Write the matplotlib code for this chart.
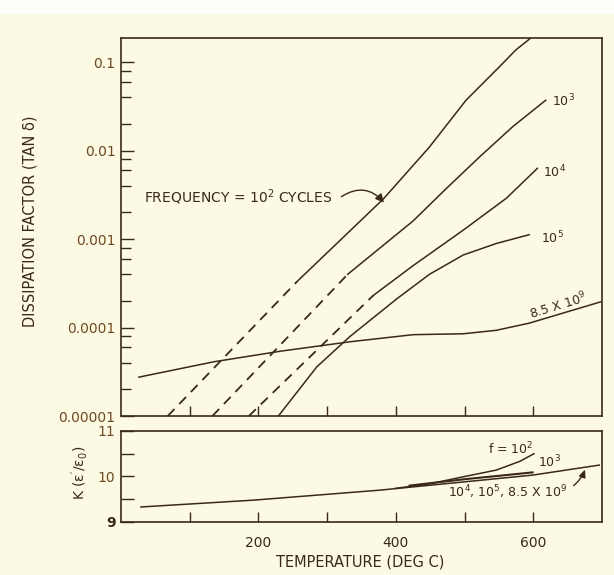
import numpy as np
import matplotlib
matplotlib.use("Agg")
import matplotlib.pyplot as plt
from matplotlib.ticker import FixedLocator, FixedFormatter, NullFormatter
from matplotlib.patches import Rectangle

plt.rcParams['font.family'] = ['DejaVu Sans']
plt.rcParams['mathtext.default'] = 'regular'
plt.rcParams['lines.scale_dashes'] = False

# ---------------- data ----------------
# Dissipation factor (tan delta) vs temperature, by frequency
# dashed = extrapolated, solid = measured
t_f1e2_dash = [68, 256]
d_f1e2_dash = [1.0e-5, 3.3e-4]
t_f1e2 = [256, 382, 449, 502, 551, 575, 596]
d_f1e2 = [3.3e-4, 2.85e-3, 1.1e-2, 3.7e-2, 8.9e-2, 0.138, 0.186]

t_f1e3_dash = [133, 330]
d_f1e3_dash = [1.0e-5, 4.0e-4]
t_f1e3 = [330, 425, 473, 522, 570, 618]
d_f1e3 = [4.0e-4, 1.6e-3, 3.7e-3, 8.5e-3, 1.86e-2, 3.7e-2]

t_f1e4_dash = [186, 367]
d_f1e4_dash = [1.0e-5, 2.3e-4]
t_f1e4 = [367, 425, 498, 561, 606]
d_f1e4 = [2.3e-4, 5.0e-4, 1.26e-3, 2.9e-3, 6.3e-3]

t_f1e5 = [229, 285, 333, 401, 449, 498, 546, 594]
d_f1e5 = [1.0e-5, 3.6e-5, 7.9e-5, 2.1e-4, 4.0e-4, 6.6e-4, 8.9e-4, 1.12e-3]

t_f85e9 = [26, 135, 232, 333, 425, 498, 546, 594, 698]
d_f85e9 = [2.75e-5, 4.1e-5, 5.4e-5, 6.9e-5, 8.3e-5, 8.5e-5, 9.3e-5, 1.12e-4, 1.95e-4]

# Dielectric constant K vs temperature
t_k_main = [29, 193, 377, 512, 599, 696]
k_main = [9.33, 9.48, 9.70, 9.90, 10.03, 10.25]
t_k_f1e2 = [400, 450, 497, 546, 580, 601]
k_f1e2 = [9.74, 9.84, 9.99, 10.14, 10.33, 10.50]
t_k_f1e3 = [420, 500, 560, 599]
k_k_f1e3 = [9.80, 9.94, 10.03, 10.09]

tan_ticks = [1e-5, 1e-4, 1e-3, 1e-2, 1e-1]
tan_labels = ["0.00001", "0.0001", "0.001", "0.01", "0.1"]
k_ticks = [9, 10, 11]
k_labels = ["9", "10", "11"]
temp_ticks = [100, 200, 300, 400, 500, 600]
temp_labels = ["", "200", "", "400", "", "600"]

# ---------------- style ----------------
paper = "#fcfae3"
ink = "#3a281c"
tick_ink = "#6e4a24"

fig = plt.figure(figsize=(6.14, 5.75), dpi=100, facecolor=paper)
fig.patches.append(Rectangle((0, 0.975), 1, 0.03, transform=fig.transFigure,
                             facecolor="#fefef8", edgecolor="none", zorder=0))

ax1 = fig.add_axes([0.1971, 0.2765, 0.7834, 0.6574])
ax2 = fig.add_axes([0.1971, 0.0922, 0.7834, 0.1583])

for ax in (ax1, ax2):
    ax.set_facecolor("none")
    for s in ax.spines.values():
        s.set_color(ink)
        s.set_linewidth(1.2)

lw = 1.1
dash = (0, (7, 5))

# ---- upper panel ----
ax1.set_yscale("log")
ax1.set_xlim(0, 700)
ax1.set_ylim(1e-5, 0.187)

for td, dd, t, d in [(t_f1e2_dash, d_f1e2_dash, t_f1e2, d_f1e2),
                     (t_f1e3_dash, d_f1e3_dash, t_f1e3, d_f1e3),
                     (t_f1e4_dash, d_f1e4_dash, t_f1e4, d_f1e4)]:
    ax1.plot(td, dd, color=ink, lw=1.3, linestyle=dash, clip_on=False)
    ax1.plot(t, d, color=ink, lw=lw)
ax1.plot(t_f1e5, d_f1e5, color=ink, lw=lw)
ax1.plot(t_f85e9, d_f85e9, color=ink, lw=lw)

ax1.yaxis.set_major_locator(FixedLocator(tan_ticks))
ax1.yaxis.set_major_formatter(FixedFormatter(tan_labels))
minor = [m * 10.0 ** e for e in range(-5, 0) for m in (2, 4, 6, 8)]
ax1.yaxis.set_minor_locator(FixedLocator(minor))
ax1.yaxis.set_minor_formatter(NullFormatter())
ax1.xaxis.set_major_locator(FixedLocator(temp_ticks))
ax1.set_xticklabels([])
ax1.tick_params(axis="y", which="major", direction="in", length=9, width=1.0,
                colors=ink, labelcolor=tick_ink, labelsize=10, pad=4)
ax1.tick_params(axis="y", which="minor", direction="in", length=7, width=1.0,
                colors=ink)
ax1.tick_params(axis="x", which="both", direction="in", length=7, width=1.0,
                colors=ink)

txt = dict(color=ink, fontsize=9)
ax1.text(627, 10 ** -1.44, "10$^3$", ha="left", va="center", **txt)
ax1.text(614, 10 ** -2.24, "10$^4$", ha="left", va="center", **txt)
ax1.text(611, 10 ** -2.99, "10$^5$", ha="left", va="center", **txt)
ax1.text(636, 10 ** -3.75, "8.5 X 10$^9$", ha="center", va="center",
         rotation=17, **txt)
ax1.text(33, 10 ** -2.53, "FREQUENCY = 10$^2$ CYCLES", ha="left", va="center",
         color=ink, fontsize=10)
ax1.annotate("", xy=(384, 10 ** -2.60), xytext=(319, 10 ** -2.53),
             arrowprops=dict(arrowstyle="-|>,head_length=0.5,head_width=0.25",
                             color=ink, lw=1.0,
                             connectionstyle="arc3,rad=-0.45",
                             shrinkA=1, shrinkB=1))

# ---- lower panel ----
ax2.set_xlim(0, 700)
ax2.set_ylim(9, 11)
ax2.plot(t_k_main, k_main, color=ink, lw=lw)
ax2.plot(t_k_f1e2, k_f1e2, color=ink, lw=lw)
ax2.plot(t_k_f1e3, k_k_f1e3, color=ink, lw=1.5)

ax2.yaxis.set_major_locator(FixedLocator(k_ticks))
ax2.yaxis.set_major_formatter(FixedFormatter(k_labels))
ax2.yaxis.set_minor_locator(FixedLocator([9.5, 10.5]))
ax2.xaxis.set_major_locator(FixedLocator(temp_ticks))
ax2.xaxis.set_major_formatter(FixedFormatter(temp_labels))
ax2.tick_params(axis="y", which="both", direction="in", length=9, width=1.0,
                colors=ink, labelcolor=tick_ink, labelsize=10, pad=4)
ax2.tick_params(axis="x", direction="in", length=7, width=1.0, colors=ink,
                labelcolor=ink, labelsize=10, pad=10)
lab9 = ax2.get_yticklabels()[0]
lab9.set_color(ink)
lab9.set_fontweight("bold")

ax2.text(567, 10.60, "f = 10$^2$", ha="center", va="center", **txt)
ax2.text(623, 10.32, "10$^3$", ha="center", va="center", **txt)
ax2.text(562, 9.66, "10$^4$, 10$^5$, 8.5 X 10$^9$", ha="center", va="center", **txt)
ax2.annotate("", xy=(676, 10.18), xytext=(657, 9.78),
             arrowprops=dict(arrowstyle="-|>,head_length=0.45,head_width=0.2",
                             color=ink, lw=1.0,
                             connectionstyle="arc3,rad=0.15",
                             shrinkA=1, shrinkB=1))

# ---- axis titles ----
fig.text(30 / 614, 1 - 221 / 575, "DISSIPATION FACTOR (TAN δ)", rotation=90,
         ha="center", va="center", color=ink, fontsize=10.5)
fig.text(80 / 614, 1 - 473 / 575, "K ($\\epsilon'/\\epsilon_0$)", rotation=90,
         ha="center", va="center", color=ink, fontsize=10)
fig.text(360 / 614, 1 - 562 / 575, "TEMPERATURE (DEG C)", ha="center",
         va="center", color=ink, fontsize=10.5)

fig.savefig("out.png", dpi=100, facecolor=paper)
